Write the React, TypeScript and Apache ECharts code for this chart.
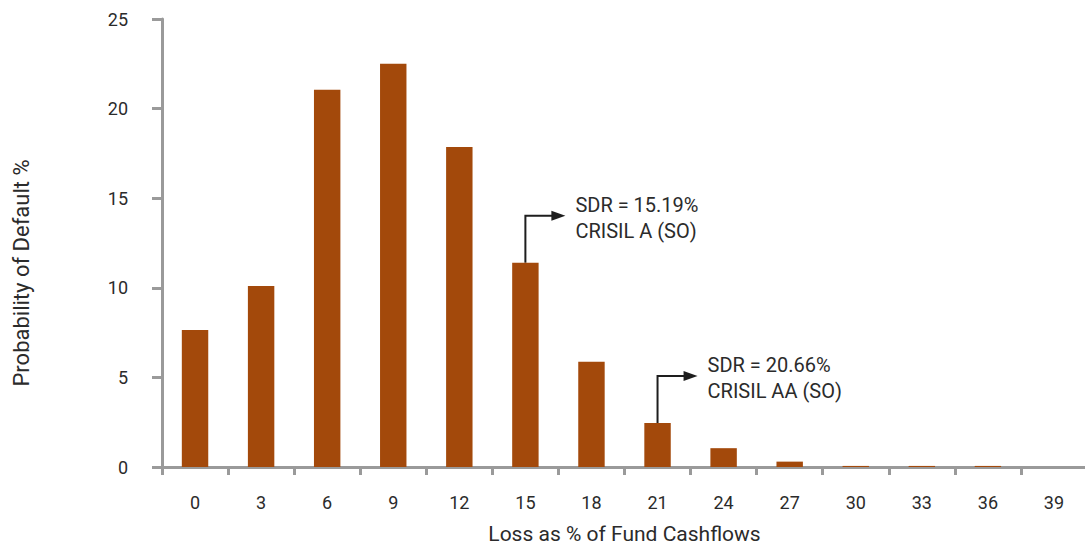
import React, { useEffect, useRef } from "react";
import * as echarts from "echarts";

// Loss buckets (% of fund cashflows) and probability of default for each
const lossBuckets = ["0", "3", "6", "9", "12", "15", "18", "21", "24", "27", "30", "33", "36", "39"];
const defaultProbability = [7.65, 10.1, 21.05, 22.5, 17.86, 11.4, 5.87, 2.46, 1.05, 0.3, 0.06, 0.06, 0.06, 0];
const yTicks = [0, 5, 10, 15, 20, 25];

// Callouts pointing at particular buckets
const calloutBuckets = ["15", "21"];
const calloutLines = [
  ["SDR = 15.19%", "CRISIL A (SO)"],
  ["SDR = 20.66%", "CRISIL AA (SO)"],
];

const FONT = "Roboto, 'DejaVu Sans', sans-serif";
const AXIS_GRAY = "#9a9a9a";
const BAR_COLOR = "#a3490b";
const TEXT = "#2b2b2b";

export default function App() {
  const ref = useRef<HTMLDivElement>(null);

  useEffect(() => {
    if (!ref.current) return;
    const chart = echarts.init(ref.current, undefined, { renderer: "svg" });
    chart.setOption({
      animation: false,
      grid: {
        left: 162,
        right: -2,
        top: 19,
        bottom: 79,
        containLabel: false,
        outerBoundsMode: "none",
      },
      xAxis: {
        type: "category",
        data: lossBuckets,
        name: "Loss as % of Fund Cashflows",
        nameLocation: "middle",
        nameGap: 56,
        nameTextStyle: { fontFamily: FONT, fontSize: 21, color: TEXT },
        axisLine: { lineStyle: { color: AXIS_GRAY, width: 3 } },
        axisTick: { show: true, alignWithLabel: false, length: 8, lineStyle: { color: AXIS_GRAY, width: 3 } },
        axisLabel: { fontFamily: FONT, fontSize: 18, color: TEXT, margin: 26 },
      },
      yAxis: {
        type: "value",
        min: yTicks[0],
        max: yTicks[yTicks.length - 1],
        interval: 5,
        axisLine: { show: true, lineStyle: { color: AXIS_GRAY, width: 3 } },
        axisTick: { show: true, length: 10, lineStyle: { color: AXIS_GRAY, width: 3 } },
        axisLabel: { fontFamily: FONT, fontSize: 18, color: TEXT, margin: 34 },
        splitLine: { show: false },
      },
      series: [
        {
          type: "bar",
          data: defaultProbability,
          barWidth: "40%",
          itemStyle: { color: BAR_COLOR },
        },
      ],
    });

    const graphics: any[] = [
      // Vertical axis title, sitting a little below the axis midpoint
      {
        type: "text",
        x: 21,
        y: 273,
        rotation: Math.PI / 2,
        style: {
          text: "Probability of Default %",
          fontFamily: FONT,
          fontSize: 22,
          fill: TEXT,
          align: "center",
          verticalAlign: "middle",
        },
      },
    ];

    // Elbow arrows with callout text, anchored to the top of each bar
    calloutBuckets.forEach((bucket, i) => {
      const idx = lossBuckets.indexOf(bucket);
      const [x, y] = chart.convertToPixel({ seriesIndex: 0 }, [idx, defaultProbability[idx]]) as number[];
      const cornerY = y - 47;
      const tipX = x + 40;
      graphics.push({
        type: "polyline",
        shape: { points: [[x, y], [x, cornerY], [tipX - 10, cornerY]] },
        style: { stroke: "#1e1e1e", lineWidth: 2, fill: null },
      });
      graphics.push({
        type: "polygon",
        shape: { points: [[tipX - 14, cornerY - 5], [tipX, cornerY], [tipX - 14, cornerY + 5]] },
        style: { fill: "#1e1e1e" },
      });
      graphics.push({
        type: "text",
        x: x + 50,
        y: cornerY - 24,
        style: {
          text: calloutLines[i].join("\n"),
          fontFamily: FONT,
          fontSize: 20,
          lineHeight: 26,
          fill: TEXT,
        },
      });
    });
    chart.setOption({ graphic: graphics });

    return () => chart.dispose();
  }, []);

  return (
    <div
      ref={ref}
      style={{ position: "fixed", left: 0, top: 0, width: 1085, height: 546, background: "#fff" }}
    />
  );
}
